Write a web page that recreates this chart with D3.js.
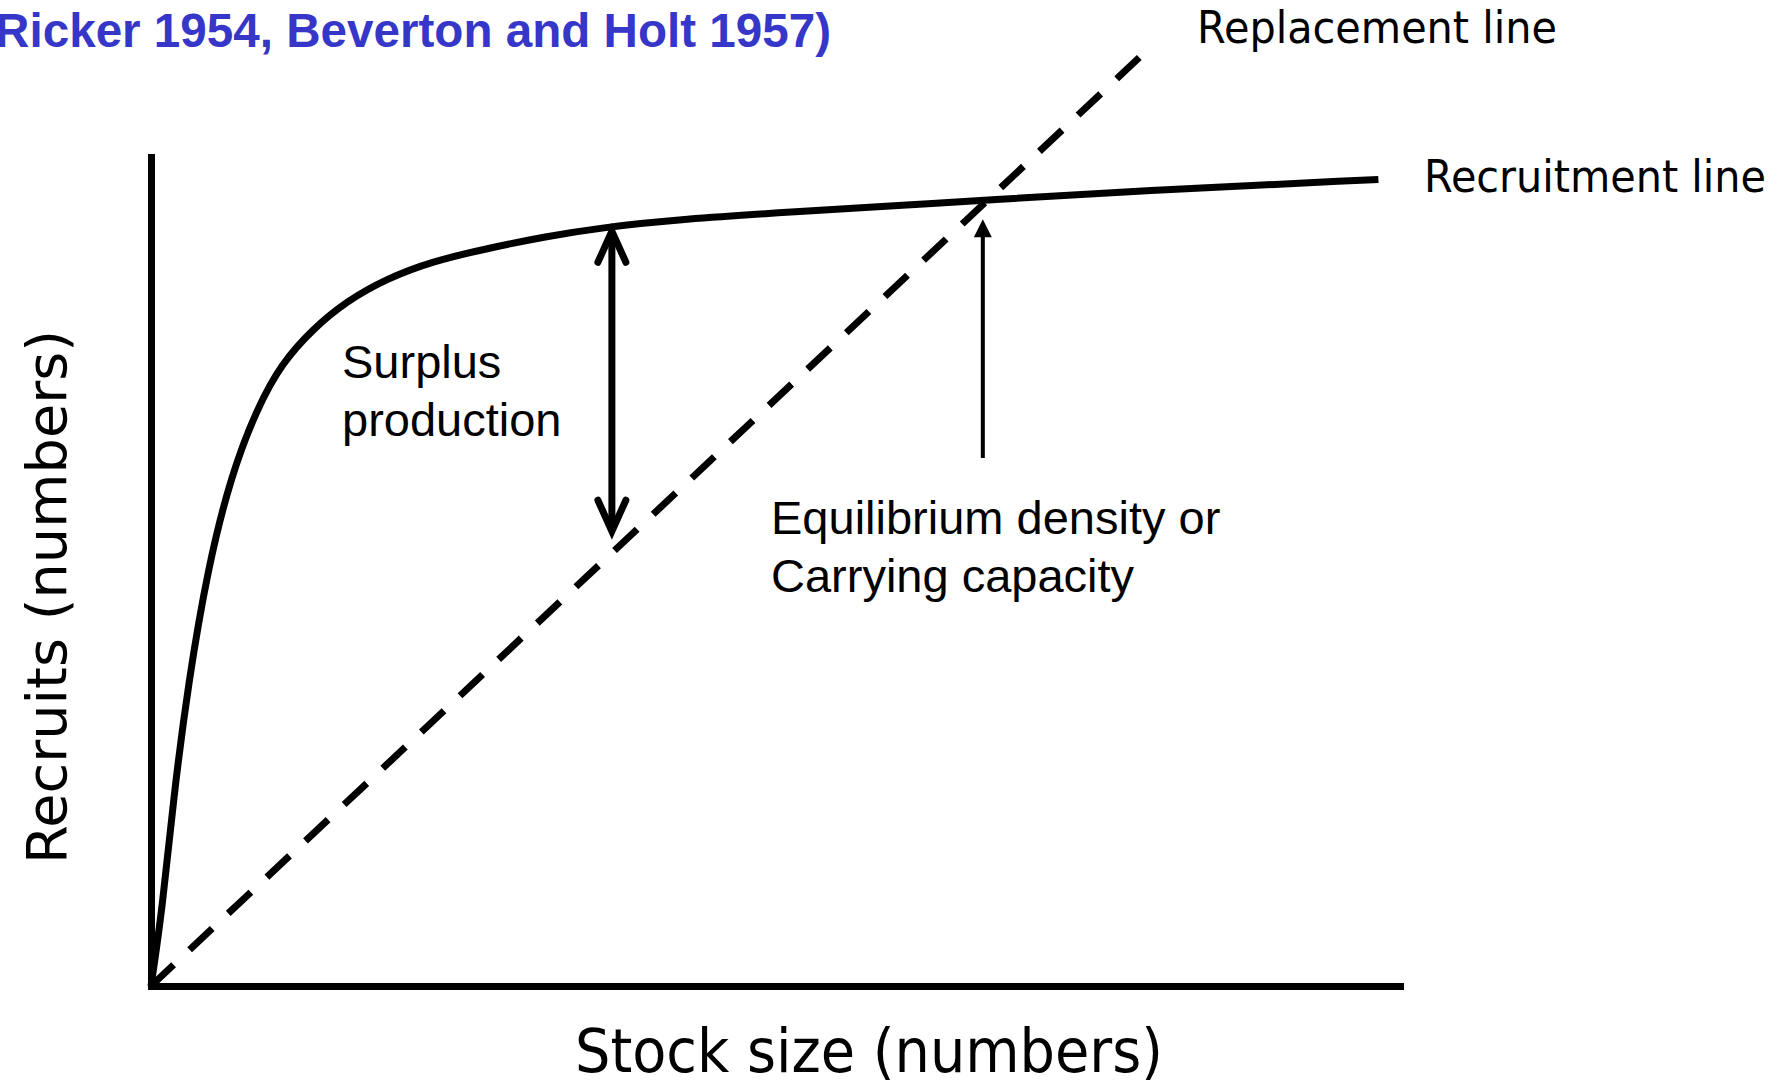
<!DOCTYPE html>
<html>
<head>
<meta charset="utf-8">
<script src="https://cdn.jsdelivr.net/npm/d3@7"></script>
<style>
  body { margin: 0; background: white; }
  svg { display: block; }
</style>
</head>
<body>
<div id="chart"></div>
<script>
// recruitment curve (stock 0-100, recruits 0-100)
const stock    = [0, 0.91, 1.82, 3.00, 4.55, 6.37, 8.46, 10.46, 12.92, 15.65, 18.84, 22.47, 27.02, 31.57, 36.12, 42.49, 51.59, 60.69, 66.61, 78.89, 98.27]
const recruits = [0, 9.3, 23.0, 36.7, 50.4, 61.4, 69.6, 75.1, 79.2, 82.6, 85.3, 87.4, 89.0, 90.4, 91.5, 92.5, 93.4, 94.2, 94.8, 95.9, 97.3]

// replacement line (1:1 in numbers)
const replacementStock    = [0, 80.4]
const replacementRecruits = [0, 113.8]

// arrows: [stock, from recruits, to recruits]
const surplusArrow = [36.9, 54.5, 91.4]
const equilArrow   = [66.6, 63.7, 92.5]

const width = 1782, height = 1085

const svg = d3.select("#chart").append("svg")
    .attr("width", width)
    .attr("height", height)

svg.append("rect").attr("width", width).attr("height", height).attr("fill", "white")

const x = d3.scaleLinear().domain([0, 100]).range([151, 1400])
const y = d3.scaleLinear().domain([0, 100]).range([986, 157])

// axes with no ticks, just the heavy domain line
svg.append("g")
    .attr("transform", `translate(0,${y(0)})`)
    .call(d3.axisBottom(x).tickValues([]).tickSizeOuter(0))
svg.append("g")
    .attr("transform", `translate(${x(0)},0)`)
    .call(d3.axisLeft(y).tickValues([]).tickSizeOuter(0))

svg.selectAll(".domain")
    .attr("stroke", "black")
    .attr("stroke-width", 7)
    .attr("stroke-linecap", "square")

// replacement line
const repl = replacementStock.map((s, i) => [s, replacementRecruits[i]])
svg.append("path")
    .datum(repl)
    .attr("d", d3.line().x(d => x(d[0])).y(d => y(d[1])))
    .attr("stroke", "black")
    .attr("stroke-width", 7)
    .attr("stroke-dasharray", "31,22")
    .attr("fill", "none")

// recruitment curve
const curvePts = stock.map((s, i) => [s, recruits[i]])
svg.append("path")
    .datum(curvePts)
    .attr("d", d3.line().curve(d3.curveBasis).x(d => x(d[0])).y(d => y(d[1])))
    .attr("stroke", "black")
    .attr("stroke-width", 7)
    .attr("fill", "none")

// surplus production double arrow with open heads
const sx = x(surplusArrow[0])
const sy1 = y(surplusArrow[1]), sy2 = y(surplusArrow[2])
svg.append("line")
    .attr("x1", sx).attr("x2", sx)
    .attr("y1", sy1 - 4).attr("y2", sy2 + 4)
    .attr("stroke", "black").attr("stroke-width", 7)
const chevron = (tipY, dir) => `M${sx - 14},${tipY + dir * 31} L${sx},${tipY} L${sx + 14},${tipY + dir * 31}`
svg.append("path").attr("d", chevron(sy2 + 3, 1))
    .attr("stroke", "black").attr("stroke-width", 7).attr("fill", "none")
    .attr("stroke-linecap", "round").attr("stroke-linejoin", "miter")
svg.append("path").attr("d", chevron(sy1 - 3, -1))
    .attr("stroke", "black").attr("stroke-width", 7).attr("fill", "none")
    .attr("stroke-linecap", "round").attr("stroke-linejoin", "miter")

// equilibrium arrow, filled head
const ex = x(equilArrow[0])
const ey1 = y(equilArrow[1]), ey2 = y(equilArrow[2])
svg.append("line")
    .attr("x1", ex).attr("x2", ex)
    .attr("y1", ey1).attr("y2", ey2 + 15)
    .attr("stroke", "black").attr("stroke-width", 4)
svg.append("path")
    .attr("d", `M${ex - 9},${ey2 + 18} L${ex},${ey2} L${ex + 9},${ey2 + 18} Z`)
    .attr("fill", "black")

// texts
svg.append("text")
    .attr("x", 831).attr("y", 47)
    .attr("text-anchor", "end")
    .attr("font-family", "Liberation Sans, Arial, sans-serif")
    .attr("font-weight", "bold")
    .attr("font-size", 47.6)
    .attr("fill", "#3636c8")
    .text("(Ricker 1954, Beverton and Holt 1957)")

const condensed = (txt, tx, ty, len, size) => svg.append("text")
    .attr("x", tx).attr("y", ty)
    .attr("font-family", "DejaVu Sans, sans-serif")
    .attr("font-size", size)
    .attr("textLength", len)
    .attr("lengthAdjust", "spacingAndGlyphs")
    .text(txt)

condensed("Replacement line", 1197, 43, 360, 44)
condensed("Recruitment line", 1424, 192, 342, 44)
condensed("Stock size (numbers)", 575, 1072, 588, 60)

svg.append("text")
    .attr("transform", "translate(66,864) rotate(-90)")
    .attr("font-family", "DejaVu Sans, sans-serif")
    .attr("font-size", 56)
    .attr("textLength", 534)
    .attr("lengthAdjust", "spacingAndGlyphs")
    .text("Recruits (numbers)")

const plain = (lines, tx, ty) => {
    const t = svg.append("text")
        .attr("font-family", "Liberation Sans, Arial, sans-serif")
        .attr("font-size", 47)
    lines.forEach((l, i) => t.append("tspan").attr("x", tx).attr("y", ty + i * 58).text(l))
}
plain(["Surplus", "production"], 342, 378)
plain(["Equilibrium density or", "Carrying capacity"], 771, 534)
</script>
</body>
</html>
